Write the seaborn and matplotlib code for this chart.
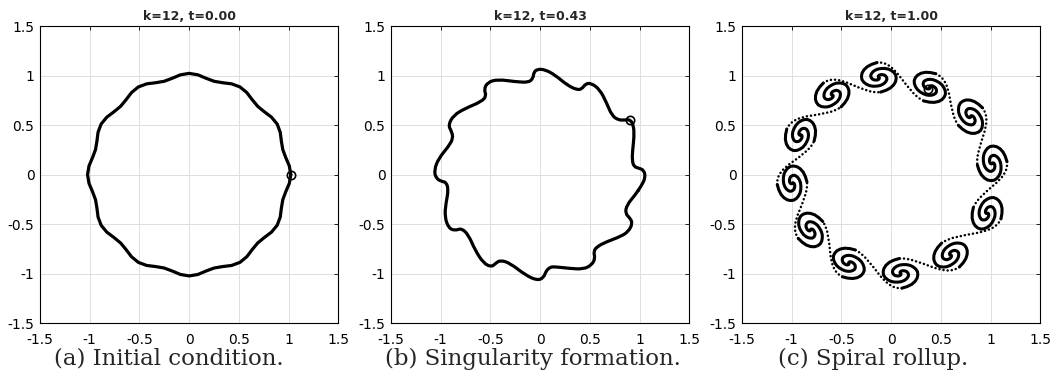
import numpy as np
import pandas as pd
import matplotlib
matplotlib.use("Agg")
import matplotlib.pyplot as plt
import seaborn as sns
from matplotlib.path import Path
from matplotlib.patches import PathPatch

# (a) initial sheet: radius over one lobe, read every 5 deg, k=12 lobes
a_lobe_radius = [1.022, 1.011, 0.987, 0.975, 0.987, 1.011]
a_lobe_count = 12
a_marker = (1.022, 0.0)

# (b) sheet traced counter-clockwise from the right side
b_x = [1.02, 1.058, 1.045, 0.99, 0.945, 0.925, 0.93, 0.945, 0.94, 0.905, 0.855, 0.785,
       0.72, 0.67, 0.60, 0.51, 0.455, 0.42, 0.37, 0.27, 0.15, 0.05, -0.03, -0.065,
       -0.07, -0.115, -0.25, -0.43, -0.53, -0.565, -0.54, -0.59, -0.75, -0.87, -0.925, -0.89,
       -0.875, -0.925, -1.02, -1.065, -1.05, -0.99, -0.945, -0.922, -0.948, -0.96, -0.92, -0.855,
       -0.79, -0.72, -0.655, -0.57, -0.49, -0.448, -0.40, -0.30, -0.15, -0.03, 0.035, 0.06,
       0.10, 0.135, 0.285, 0.435, 0.52, 0.553, 0.537, 0.57, 0.67, 0.805, 0.888, 0.929,
       0.905, 0.855, 0.872, 0.955]
b_y = [-0.11, -0.03, 0.045, 0.066, 0.08, 0.14, 0.25, 0.38, 0.50, 0.555, 0.552, 0.55,
       0.60, 0.72, 0.86, 0.925, 0.915, 0.865, 0.855, 0.905, 1.005, 1.06, 1.065, 1.03,
       0.975, 0.93, 0.938, 0.962, 0.93, 0.86, 0.795, 0.737, 0.67, 0.60, 0.50, 0.435,
       0.365, 0.28, 0.165, 0.05, -0.035, -0.07, -0.075, -0.155, -0.29, -0.425, -0.54, -0.565,
       -0.54, -0.61, -0.76, -0.893, -0.932, -0.895, -0.862, -0.895, -1.012, -1.068, -1.04, -0.97,
       -0.935, -0.928, -0.945, -0.955, -0.91, -0.845, -0.777, -0.727, -0.676, -0.626, -0.575, -0.491,
       -0.44, -0.39, -0.306, -0.205]
b_marker = (0.9, 0.55)

# (c) spiral centres, clockwise from the top
c_centre_x = [-0.124, 0.389, 0.798, 1.016, 0.965, 0.597, 0.094, -0.426, -0.811, -0.996, -0.912, -0.593]
c_centre_y = [0.982, 0.881, 0.585, 0.114, -0.390, -0.811, -0.996, -0.895, -0.558, -0.087, 0.400, 0.804]
c_half_along = 0.22    # spiral half size along the ring
c_half_across = 0.15   # spiral half size across the ring
c_turn_deg = list(range(0, 406, 15))
c_turn_radius = [1.00, 0.96, 0.93, 0.89, 0.85, 0.81, 0.78, 0.74, 0.70, 0.67,
                 0.63, 0.59, 0.56, 0.52, 0.48, 0.44, 0.41, 0.37, 0.33, 0.30,
                 0.26, 0.22, 0.19, 0.15, 0.11, 0.07, 0.04, 0.00]
c_marker = (0.375, 0.865)

titles = ["k=12, t=0.00", "k=12, t=0.43", "k=12, t=1.00"]
captions = ["(a) Initial condition.", "(b) Singularity formation.", "(c) Spiral rollup."]
caption_x = [169, 533, 873]
ticks = [-1.5, -1, -0.5, 0, 0.5, 1, 1.5]
tick_labels = ["-1.5", "-1", "-0.5", "0", "0.5", "1", "1.5"]

W, H = 1053, 387
sns.set_theme(style="whitegrid", rc={
    "grid.color": "#dedede", "grid.linewidth": 0.7,
    "axes.edgecolor": "black", "axes.linewidth": 0.8,
    "xtick.color": "black", "ytick.color": "black",
})
plt.rcParams["font.family"] = ["DejaVu Sans"]
plt.rcParams["axes.unicode_minus"] = False

fig = plt.figure(figsize=(W / 100, H / 100), dpi=100)
lefts = [40, 391, 742]
axes = [fig.add_axes([l / W, (H - 323.3) / H, 298.3 / W, 297.3 / H]) for l in lefts]

# (a)
theta = np.deg2rad(np.arange(0, 360, 5))
r = np.tile(a_lobe_radius, a_lobe_count)
xa = np.append(r * np.cos(theta), r[0] * np.cos(theta[0]))
ya = np.append(r * np.sin(theta), r[0] * np.sin(theta[0]))
sns.lineplot(x=xa, y=ya, sort=False, estimator=None, color="black", lw=2.3, ax=axes[0])
axes[0].plot(*a_marker, "o", mfc="none", mec="black", ms=6, mew=1.2)

# (b) traced points used as smooth-curve control points
pts = np.column_stack([b_x, b_y])
mids = (pts + np.roll(pts, -1, axis=0)) / 2
verts = [mids[-1]]
codes = [Path.MOVETO]
for p, m in zip(pts, mids):
    verts += [p, m]
    codes += [Path.CURVE3, Path.CURVE3]
axes[1].add_patch(PathPatch(Path(verts, codes), fill=False, edgecolor="black", lw=2.3,
                            joinstyle="round", capstyle="round"))
axes[1].plot(*b_marker, "o", mfc="none", mec="black", ms=6, mew=1.2)

# (c)
cx = np.array(c_centre_x)
cy = np.array(c_centre_y)
ang = np.arctan2(cy, cx)
e_r = np.stack([np.cos(ang), np.sin(ang)], axis=1)
e_t = np.stack([np.sin(ang), -np.cos(ang)], axis=1)

phi = np.deg2rad(np.array(c_turn_deg) - 90)
rr = np.array(c_turn_radius)
arm_u = c_half_along * rr * np.cos(phi)
arm_v = c_half_across * rr * np.sin(phi)
u = np.concatenate([arm_u, -arm_u[::-1][1:]])
v = np.concatenate([arm_v, -arm_v[::-1][1:]])

rows = []
for i in range(len(cx)):
    px = cx[i] + u * e_t[i, 0] + v * e_r[i, 0]
    py = cy[i] + u * e_t[i, 1] + v * e_r[i, 1]
    rows.append(pd.DataFrame({"x": px, "y": py, "spiral": i}))
spirals = pd.concat(rows, ignore_index=True)
sns.lineplot(data=spirals, x="x", y="y", units="spiral", estimator=None, sort=False,
             color="black", lw=2.2, ax=axes[2])

d = 0.2
for i in range(len(cx)):
    j = (i + 1) % len(cx)
    p0 = np.array([cx[i], cy[i]]) + c_half_across * e_r[i]
    p3 = np.array([cx[j], cy[j]]) - c_half_across * e_r[j]
    p1 = p0 + d * e_t[i]
    p2 = p3 - d * e_t[j]
    path = Path([p0, p1, p2, p3], [Path.MOVETO, Path.CURVE4, Path.CURVE4, Path.CURVE4])
    axes[2].add_patch(PathPatch(path, fill=False, edgecolor="black", lw=1.8,
                                linestyle=(0, (0.05, 1.6)), capstyle="round"))
axes[2].plot(*c_marker, "o", mfc="none", mec="black", ms=6, mew=1.2)

for ax, title in zip(axes, titles):
    ax.set_xlim(-1.5, 1.5)
    ax.set_ylim(-1.5, 1.5)
    ax.set_xticks(ticks)
    ax.set_yticks(ticks)
    ax.set_xticklabels(tick_labels)
    ax.set_yticklabels(tick_labels)
    ax.set_xlabel("")
    ax.set_ylabel("")
    ax.tick_params(axis="both", direction="in", length=3, width=0.6, labelsize=10,
                   top=True, right=True)
    ax.tick_params(axis="x", pad=7)
    ax.tick_params(axis="y", pad=4)
    ax.set_axisbelow(True)
    ax.set_title(title, fontsize=9, fontweight="bold", pad=4)
    for s in ax.spines.values():
        s.set_visible(True)
        s.set_color("black")

for x, cap in zip(caption_x, captions):
    fig.text(x / W, 1 - 359 / H, cap, ha="center", va="center",
             family="DejaVu Serif", fontsize=16.5)

fig.savefig("out.png", dpi=100)
